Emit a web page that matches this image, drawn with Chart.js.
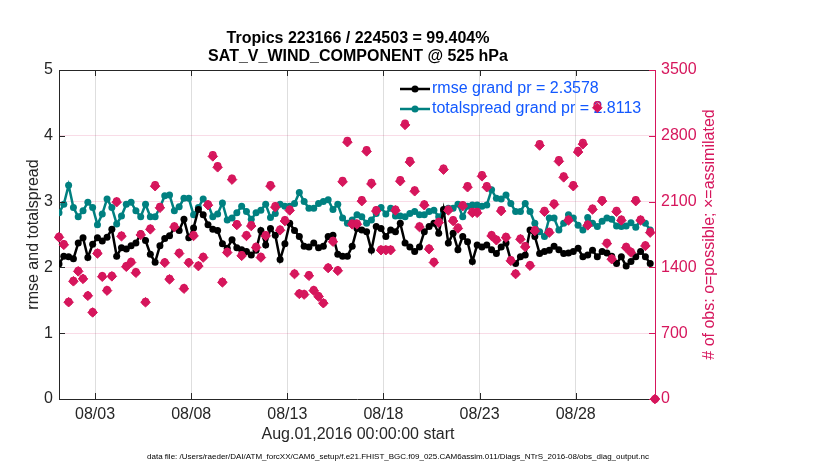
<!DOCTYPE html>
<html><head><meta charset="utf-8">
<script src="https://cdn.jsdelivr.net/npm/chart.js@4.4.1/dist/chart.umd.min.js"></script>
<style>html,body{margin:0;padding:0;background:#fff;}#wrap{width:830px;height:470px;}</style>
</head><body><div id="wrap"><canvas id="c" width="830" height="470"></canvas></div>
<script>
// time of first bin (days after Aug.01 00:00) and bin width (days)
const startDay = 0.125;
const stepDay = 0.25;

const rmse = [
2.05,2.17,2.16,2.13,2.37,2.45,2.15,2.35,2.45,2.40,2.46,2.58,2.17,2.30,2.28,2.33,2.37,2.51,2.41,2.20,2.08,2.33,2.44,2.48,2.60,2.56,2.73,2.45,2.60,2.88,2.80,2.65,
2.58,2.56,2.36,2.29,2.42,2.30,2.27,2.24,2.19,2.26,2.56,2.34,2.59,2.49,2.12,2.36,2.67,2.56,2.47,2.32,2.31,2.37,2.30,2.32,2.47,2.49,2.20,2.17,2.17,2.32,
2.59,2.57,2.54,2.26,2.62,2.59,2.47,2.57,2.54,2.67,2.37,2.31,2.24,2.31,2.54,2.62,2.67,2.52,2.88,2.37,2.52,2.27,2.47,2.39,2.09,2.34,2.31,2.34,2.27,2.21,
2.31,2.37,2.11,2.06,2.16,2.19,2.57,2.47,2.21,2.24,2.26,2.32,2.27,2.21,2.22,2.24,2.29,2.16,2.19,2.26,2.16,2.24,2.22,2.17,2.06,2.16,2.02,2.09,2.16,2.24,2.16,2.06,
null];

const totalspread = [
2.83,2.96,3.25,2.91,2.77,2.86,2.99,2.91,2.65,2.81,3.04,2.91,2.66,2.78,2.96,2.99,2.86,2.77,2.96,2.77,2.77,2.91,3.09,3.10,2.86,2.92,3.05,3.05,2.80,2.91,3.04,2.96,
2.77,2.81,2.98,2.72,2.75,2.83,2.93,2.85,2.73,2.83,2.87,2.96,2.76,2.82,2.96,2.93,2.93,2.97,3.14,3.00,2.90,2.90,2.97,3.00,3.03,2.88,2.96,2.75,2.67,2.72,
2.80,2.77,2.67,2.72,2.82,2.91,2.81,2.90,2.78,2.78,2.77,2.82,2.85,2.80,2.80,2.85,2.87,2.77,2.85,2.90,2.90,2.96,2.77,2.93,2.95,2.95,2.93,2.95,3.18,3.05,
3.04,3.10,2.97,2.85,2.85,2.97,2.85,2.67,2.54,2.47,2.75,2.75,2.57,2.67,2.80,2.75,2.64,2.57,2.76,2.67,2.62,2.70,2.75,2.73,2.63,2.62,2.63,2.68,2.61,2.72,2.67,2.57,
null];

const obsPossible = [
1727,1649,1035,1259,1365,1284,1103,926,1557,1309,1160,1312,2106,1741,1415,1461,1351,1755,1035,1816,2277,2046,1457,1280,1840,1557,1181,1457,1745,1422,1514,2074,
2596,2479,1248,1567,2347,1862,1532,1745,1851,1621,1514,1745,2277,2053,1805,1904,2018,1337,1124,1117,1319,1160,1096,1025,1401,1684,1372,2323,2748,1869,
1869,2117,2649,2301,2011,1592,1592,1592,2018,2330,2933,2535,2223,1840,2074,1603,1461,1887,2454,2018,1904,1826,2064,2266,1993,1993,2383,2266,1745,1699,
2011,1727,1479,1337,1709,1628,1426,1798,2713,2004,1780,2082,2543,2372,1911,2277,2642,2727,1858,2028,3128,2117,1663,1496,2004,1911,1620,1567,2117,1911,1638,1780,
0];

const obsAssimilated = [
1720,1640,1030,1252,1358,1278,1098,921,1548,1301,1153,1305,2094,1731,1407,1452,1343,1745,1029,1805,2264,2034,1449,1273,1829,1548,1174,1449,1735,1414,1505,2062,
2581,2465,1241,1558,2334,1851,1523,1735,1840,1612,1505,1735,2264,2041,1795,1893,2006,1329,1118,1111,1311,1153,1090,1019,1393,1674,1364,2310,2732,1858,
1858,2105,2634,2288,1999,1583,1583,1583,2006,2317,2916,2520,2210,1829,2062,1594,1452,1876,2440,2006,1893,1815,2052,2253,1981,1981,2369,2253,1735,1689,
1999,1717,1470,1329,1699,1618,1418,1787,2697,1992,1770,2070,2528,2358,1900,2264,2627,2711,1847,2016,3098,2105,1653,1487,1992,1900,1610,1558,2105,1900,1628,1770,
0];

const xTickDays = [2,7,12,17,22,27];
const xTickLabels = ['08/03','08/08','08/13','08/18','08/23','08/28'];
const leftTicks = [0,1,2,3,4,5];
const rightTicks = [0,700,1400,2100,2800,3500];

const titleLines = ['Tropics 223166 / 224503 = 99.404%','SAT_V_WIND_COMPONENT @ 525 hPa'];
const leftTitle = 'rmse and totalspread';
const rightTitle = '# of obs: o=possible; \u00d7=assimilated';
const xTitle = 'Aug.01,2016 00:00:00 start';
const footer = 'data file: /Users/raeder/DAI/ATM_forcXX/CAM6_setup/f.e21.FHIST_BGC.f09_025.CAM6assim.011/Diags_NTrS_2016-08/obs_diag_output.nc';
const legendLabels = ['rmse grand pr = 2.3578','totalspread grand pr = 2.8113'];

const PINK = 'rgb(214,22,92)';
const TEAL = 'rgb(0,128,128)';
const BLACK = '#000000';
const AXIS = '#262626';
const BLUE = 'rgb(18,88,255)';
const FONT = "'Liberation Sans', Arial, Helvetica, sans-serif";

function pts(arr){ return arr.map((v,i)=>({x: startDay + stepDay*i, y: v})); }

const deco = {
  id:'deco',
  beforeDatasetsDraw(chart){
    const ctx = chart.ctx;
    ctx.save();
    const cols = [BLACK, TEAL];
    const ys = [89, 109];
    for (let k=0;k<2;k++){
      ctx.strokeStyle = cols[k]; ctx.lineWidth = 2.5;
      ctx.beginPath(); ctx.moveTo(400, ys[k]); ctx.lineTo(430, ys[k]); ctx.stroke();
      ctx.fillStyle = cols[k];
      ctx.beginPath(); ctx.arc(415, ys[k], 3.5, 0, Math.PI*2); ctx.fill();
      ctx.fillStyle = BLUE; ctx.font = '16px ' + FONT;
      ctx.textAlign = 'left'; ctx.textBaseline = 'middle';
      ctx.fillText(legendLabels[k], 432, ys[k]);
    }
    ctx.restore();
  },
  afterDraw(chart){
    const ctx = chart.ctx; const ca = chart.chartArea;
    const sx = chart.scales.x, sl = chart.scales.y, sr = chart.scales.y2;
    ctx.save();
    ctx.strokeStyle = AXIS; ctx.lineWidth = 1;
    ctx.beginPath(); ctx.moveTo(ca.left, ca.top+0.5); ctx.lineTo(ca.right, ca.top+0.5); ctx.stroke();
    const tl = 6;
    ctx.strokeStyle = AXIS;
    leftTicks.forEach(v=>{ const y = Math.round(sl.getPixelForValue(v))+0.5; ctx.beginPath(); ctx.moveTo(ca.left, y); ctx.lineTo(ca.left+tl, y); ctx.stroke(); });
    xTickDays.forEach(v=>{ const x = Math.round(sx.getPixelForValue(v))+0.5;
      ctx.beginPath(); ctx.moveTo(x, ca.bottom); ctx.lineTo(x, ca.bottom-tl); ctx.stroke();
      ctx.beginPath(); ctx.moveTo(x, ca.top); ctx.lineTo(x, ca.top+tl); ctx.stroke(); });
    ctx.strokeStyle = PINK;
    rightTicks.forEach(v=>{ const y = Math.round(sr.getPixelForValue(v))+0.5; ctx.beginPath(); ctx.moveTo(ca.right, y); ctx.lineTo(ca.right-tl, y); ctx.stroke(); });
    ctx.fillStyle = '#000'; ctx.textAlign = 'center'; ctx.textBaseline = 'middle';
    ctx.font = 'bold 16px ' + FONT;
    ctx.fillText(titleLines[0], 358, 38.5);
    ctx.fillText(titleLines[1], 358, 57);
    ctx.fillStyle = AXIS; ctx.font = '16px ' + FONT;
    ctx.fillText(xTitle, 358, 435);
    ctx.fillStyle = '#000'; ctx.font = '8px ' + FONT;
    ctx.fillText(footer, 398, 457);
    ctx.save(); ctx.translate(34, (ca.top+ca.bottom)/2); ctx.rotate(-Math.PI/2);
    ctx.fillStyle = AXIS; ctx.font = '16px ' + FONT; ctx.fillText(leftTitle, 0, 0); ctx.restore();
    ctx.save(); ctx.translate(710, (ca.top+ca.bottom)/2); ctx.rotate(-Math.PI/2);
    ctx.fillStyle = PINK; ctx.font = '16px ' + FONT; ctx.fillText(rightTitle, 0, 0); ctx.restore();
    ctx.restore();
  }
};

new Chart(document.getElementById('c'), {
  type: 'line',
  data: { datasets: [
    { label:'possible', data: pts(obsPossible), yAxisID:'y2', showLine:false, pointStyle:'circle', pointRadius:3.2, borderColor:PINK, backgroundColor:'rgba(0,0,0,0)', pointBorderWidth:1.4, clip:false },
    { label:'assimilated', data: pts(obsAssimilated), yAxisID:'y2', showLine:false, pointStyle:'rectRot', pointRadius:4.8, borderColor:PINK, backgroundColor:PINK, pointBorderWidth:1, clip:false },
    { label:'rmse', data: pts(rmse), yAxisID:'y', borderColor:BLACK, backgroundColor:BLACK, borderWidth:2.5, pointRadius:3.5, pointBorderWidth:0, pointBackgroundColor:BLACK, tension:0, spanGaps:false },
    { label:'totalspread', data: pts(totalspread), yAxisID:'y', borderColor:TEAL, backgroundColor:TEAL, borderWidth:2.5, pointRadius:3.5, pointBorderWidth:0, pointBackgroundColor:TEAL, tension:0, spanGaps:false }
  ]},
  options: {
    responsive:false, animation:false, devicePixelRatio:1,
    layout:{ padding:{ top:70, left:0, right:0, bottom:0 } },
    plugins:{ legend:{display:false}, title:{display:false}, tooltip:{enabled:false} },
    scales:{
      x:{ type:'linear', min:startDay, max:startDay+stepDay*(obsPossible.length-1),
        afterBuildTicks(s){ s.ticks = xTickDays.map(v=>({value:v})); },
        afterFit(s){ s.height = 71; },
        ticks:{ callback:(v)=> xTickLabels[xTickDays.indexOf(v)], color:AXIS, font:{family:FONT, size:16}, padding:6, maxRotation:0, autoSkip:false },
        grid:{ color:'rgba(0,0,0,0.13)', drawTicks:false },
        border:{ color:AXIS, width:1 } },
      y:{ position:'left', min:0, max:5,
        afterBuildTicks(s){ s.ticks = leftTicks.map(v=>({value:v})); },
        afterFit(s){ s.width = 59; },
        ticks:{ color:AXIS, font:{family:FONT, size:16}, padding:6, callback:(v)=>String(v) },
        grid:{ display:false, drawTicks:false },
        border:{ color:AXIS, width:1 } },
      y2:{ position:'right', min:0, max:3500,
        afterBuildTicks(s){ s.ticks = rightTicks.map(v=>({value:v})); },
        afterFit(s){ s.width = 175; },
        ticks:{ color:PINK, font:{family:FONT, size:16}, padding:6, callback:(v)=>String(v) },
        grid:{ color:(c)=> (c.tick && (c.tick.value===0 || c.tick.value===3500)) ? 'rgba(0,0,0,0)' : 'rgba(214,22,92,0.15)', drawTicks:false },
        border:{ color:PINK, width:1 } }
    }
  },
  plugins:[deco]
});
</script></body></html>
